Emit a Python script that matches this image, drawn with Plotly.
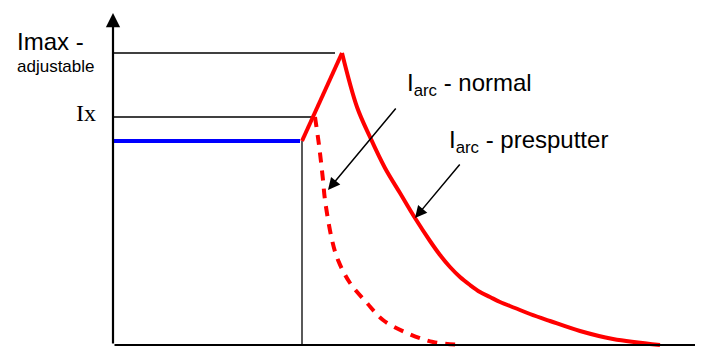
import plotly.graph_objects as go

# Diagram coordinates: t (time units) and I (current units)
blue_t = [0, 187]
blue_i = [204, 204]

imax_t = [0, 222]
imax_i = [292, 292]

ix_t = [0, 202]
ix_i = [228, 228]

vert_t = [189, 189]
vert_i = [0, 204]

rise_t = [189, 229]
rise_i = [204, 292]

presputter_t = [229, 244, 257, 272, 287, 302, 317, 327, 337, 347, 357, 367, 377, 387,
                402, 417, 437, 467, 500, 547]
presputter_i = [292, 238, 208, 177, 152, 127, 104, 90, 78, 68, 60, 53, 48, 43,
                37, 31, 24, 14, 6, 0]

normal_t = [202, 206, 210, 212, 219, 225, 237, 254, 270, 294, 320, 350]
normal_i = [228, 200, 165, 145, 105, 85, 62, 42, 25, 12, 3, 0]

# axis extents and pointer arrows (tail -> head)
yaxis_t = [0, 0]
yaxis_i = [0, 332]
xaxis_t = [0, 598]
xaxis_i = [0, 0]
ptr_normal_t = [284, 215]
ptr_normal_i = [238, 155]
ptr_pre_t = [348, 302]
ptr_pre_i = [182, 127]

fig = go.Figure()


def line(x, y, color, width, dash="solid", shape="linear"):
    fig.add_trace(go.Scatter(x=x, y=y, mode="lines",
                             line=dict(color=color, width=width, dash=dash, shape=shape,
                                       smoothing=1),
                             hoverinfo="skip", showlegend=False))


line(imax_t, imax_i, "black", 1.3)
line(ix_t, ix_i, "black", 1.3)
line(vert_t, vert_i, "black", 1.3)
line(blue_t, blue_i, "#0000ff", 4)
line(rise_t, rise_i, "#ff0000", 4)
line(presputter_t, presputter_i, "#ff0000", 4, shape="spline")
line(normal_t, normal_i, "#ff0000", 4, dash="10px,8px", shape="spline")


def arrow(x, y, width, size):
    return dict(x=x[1], y=y[1], ax=x[0], ay=y[0], xref="x", yref="y", axref="x", ayref="y",
                text="", showarrow=True, arrowhead=2, arrowsize=size, arrowwidth=width,
                arrowcolor="black")


sans = "Liberation Sans, Arial, sans-serif"
texts = [
    dict(x=-98, y=304, text="Imax -", font=dict(family=sans, size=24, color="black")),
    dict(x=-98, y=279, text="adjustable", font=dict(family=sans, size=17, color="black")),
    dict(x=-39, y=232, text="Ix",
         font=dict(family="Liberation Serif, Times New Roman, serif", size=24, color="black")),
    dict(x=292, y=261, text="I<sub>arc</sub> - normal", font=dict(family=sans, size=24, color="black")),
    dict(x=334, y=204, text="I<sub>arc</sub> - presputter", font=dict(family=sans, size=24, color="black")),
]
for a in texts:
    a.update(xref="x", yref="y", showarrow=False, xanchor="left", yanchor="middle")

ann = [
    arrow(yaxis_t, yaxis_i, 2.2, 1.3),
    arrow(xaxis_t, xaxis_i, 2.2, 1.3),
    arrow(ptr_normal_t, ptr_normal_i, 1.5, 1.6),
    arrow(ptr_pre_t, ptr_pre_i, 1.5, 1.6),
] + texts

fig.update_layout(
    width=703, height=348,
    margin=dict(l=0, r=0, t=0, b=0),
    paper_bgcolor="white", plot_bgcolor="white",
    xaxis=dict(range=[-105, 598], visible=False, fixedrange=True),
    yaxis=dict(range=[-11, 337], visible=False, fixedrange=True),
    annotations=ann,
)

fig.write_html("out.html")
